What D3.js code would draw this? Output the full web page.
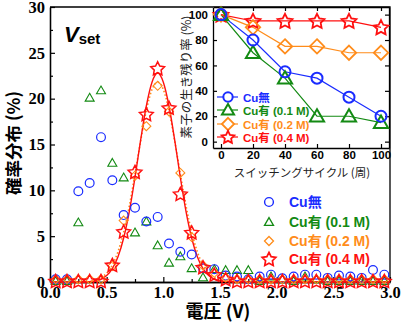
<!doctype html>
<html>
<head>
<meta charset="utf-8"/>
<title>Vset distribution</title>
<script src="https://d3js.org/d3.v7.min.js"></script>
<style>
body { margin: 0; background: #fff; }
svg { display: block; }
</style>
</head>
<body>
<svg id="svg1"></svg>
<script>
// main plot: bin centres (V) and probability (%)
const voltage = [0.05, 0.15, 0.25, 0.35, 0.45, 0.55, 0.65, 0.75, 0.85, 0.95,
                 1.05, 1.15, 1.25, 1.35, 1.45, 1.55, 1.65, 1.75, 1.85, 1.95,
                 2.05, 2.15, 2.25, 2.35, 2.45, 2.55, 2.65, 2.75, 2.85, 2.95];
const cuNone = [0.3, 0.3, 9.9, 10.8, 15.8, 11.1, 7.3, 8.1, 6.6, 7.1,
                4.2, 3.3, 3.0, 1.5, 1.4, 0.7, 0.6, 0.3, 0.6, 0.8,
                0.4, 0.6, 0.8, 0.8, 0.45, 0.7, 0.6, 0.45, 1.3, 0.8];
const cu01 = [0.1, 0.1, 6.5, 20.1, 20.9, 13.0, 11.4, 5.4, 6.6, 4.0,
              2.1, 2.8, 1.5, 0.5, 1.4, 1.3, 1.3, 1.3, 0.1, 0.6,
              0.3, 0.1, 0.6, 0.3, 0.1, 0.1, 0.1, 0.1, 0.1, 0.1];
const cu02 = [0.3, 0.3, 0.3, 0.3, 0.3, 1.75, 6.7, 11.6, 17.0, 21.4,
              18.6, 11.9, 4.9, 1.8, 1.0, 0.5, 0.3, 0.3, 0.3, 0.3,
              0.3, 0.3, 0.3, 0.3, 0.3, 0.3, 0.3, 0.3, 0.3, 0.3];
const cu04 = [0.1, 0.1, 0.1, 0.1, 0.1, 1.85, 5.5, 12.0, 18.3, 23.3,
              19.0, 9.6, 5.4, 1.6, 0.8, 0.3, 0.1, 0.1, 0.1, 0.1,
              0.1, 0.1, 0.1, 0.1, 0.1, 0.1, 0.1, 0.1, 0.1, 0.1];

// fitted curves
const fitV = [0.0, 0.3, 0.4, 0.45, 0.5, 0.55, 0.6, 0.65, 0.7, 0.75, 0.8, 0.85, 0.9,
              0.95, 1.0, 1.05, 1.1, 1.15, 1.2, 1.25, 1.3, 1.35, 1.4, 1.45, 1.5, 1.6, 1.8, 3.0];
const fit04 = [0.0, 0.0, 0.12, 0.3, 0.7, 1.45, 2.75, 4.8, 7.7, 11.4, 15.5, 19.2, 21.8,
               22.8, 21.8, 19.2, 15.5, 11.4, 7.7, 4.8, 2.75, 1.45, 0.7, 0.3, 0.12, 0.02, 0.0, 0.0];
const fit02 = [0.0, 0.0, 0.2, 0.46, 0.96, 1.85, 3.3, 5.45, 8.3, 11.8, 15.4, 18.7, 21.0,
               21.8, 21.0, 18.7, 15.4, 11.8, 8.3, 5.45, 3.3, 1.85, 0.96, 0.46, 0.2, 0.05, 0.0, 0.0];

// inset: survival rate (%) vs switching cycles
const cycles = [0, 20, 40, 60, 80, 100];
const survNone = [100, 80, 55, 50, 35, 20];
const surv01 = [100, 70, 50, 20, 20, 15];
const surv02 = [100, 90, 75, 75, 70, 70];
const surv04 = [100, 95, 95, 95, 95, 90];

const seriesNames = ['Cu無', 'Cu有 (0.1 M)', 'Cu有 (0.2 M)', 'Cu有 (0.4 M)'];
const seriesColors = ['#1a2cff', '#138a13', '#ff8c1a', '#ff1010'];
const seriesShapes = ['circle', 'triangle', 'diamond', 'star'];

const xTicks = [0, 0.5, 1.0, 1.5, 2.0, 2.5, 3.0];
const yTicks = [0, 5, 10, 15, 20, 25, 30];
const insetXTicks = [0, 20, 40, 60, 80, 100];
const insetYTicks = [0, 20, 40, 60, 80, 100];

const W = 402, H = 323;
const sans = "'Liberation Sans', Arial, 'Noto Sans CJK JP', sans-serif";
const serif = "'Liberation Serif', 'Times New Roman', serif";
const cjk = "'Noto Sans CJK JP', 'Liberation Sans', sans-serif";

const svg = d3.select('#svg1').attr('width', W).attr('height', H);

// marker path, r is the outer radius in px
function shapePath(shape, r) {
    if (shape == 'circle') {
        return d3.arc()({innerRadius: 0, outerRadius: r, startAngle: 0, endAngle: 2 * Math.PI}).replace(/L0,0Z$/, 'Z');
    }
    let pts = [];
    if (shape == 'triangle') {
        for (let i = 0; i < 3; i++) {
            let a = -Math.PI / 2 + i * 2 * Math.PI / 3;
            pts.push([r * Math.cos(a), r * Math.sin(a) + r * 0.15]);
        }
    } else if (shape == 'diamond') {
        pts = [[0, -r], [r, 0], [0, r], [-r, 0]];
    } else {
        for (let i = 0; i < 10; i++) {
            let a = -Math.PI / 2 + i * Math.PI / 5;
            let rr = i % 2 == 0 ? r : r * 0.5;
            pts.push([rr * Math.cos(a), rr * Math.sin(a) + r * 0.08]);
        }
    }
    return 'M' + pts.map(p => p[0].toFixed(2) + ',' + p[1].toFixed(2)).join('L') + 'Z';
}

function drawMarkers(g, xs, ys, sx, sy, shape, color, r, sw) {
    g.append('g').selectAll('path')
        .data(xs.map((x, i) => [x, ys[i]]))
        .join('path')
        .attr('transform', d => 'translate(' + sx(d[0]) + ',' + sy(d[1]) + ')')
        .attr('d', shapePath(shape, r))
        .attr('fill', 'none')
        .attr('stroke', color)
        .attr('stroke-width', sw);
}

// ---------- main plot ----------
const x = d3.scaleLinear().domain([0, 3]).range([50, 390]);
const y = d3.scaleLinear().domain([0, 30]).range([282, 7]);

const main = svg.append('g');

function styleAxis(g, font, size) {
    g.selectAll('path.domain').attr('stroke', '#000').attr('stroke-width', 1.3);
    g.selectAll('.tick line').attr('stroke', '#000').attr('stroke-width', 1.2);
    g.selectAll('.tick text')
        .attr('fill', '#000')
        .style('font-family', font)
        .style('font-size', size + 'px')
        .style('font-weight', 'bold');
}

// minor ticks first
main.append('g').attr('transform', 'translate(0,282)')
    .call(d3.axisBottom(x).tickValues([0.25, 0.75, 1.25, 1.75, 2.25, 2.75]).tickSizeInner(-3).tickSizeOuter(0).tickFormat(''))
    .call(g => styleAxis(g, serif, 15));
main.append('g').attr('transform', 'translate(50,0)')
    .call(d3.axisLeft(y).tickValues([2.5, 7.5, 12.5, 17.5, 22.5, 27.5]).tickSizeInner(-3).tickSizeOuter(0).tickFormat(''))
    .call(g => styleAxis(g, serif, 15));

main.append('g').attr('transform', 'translate(0,282)')
    .call(d3.axisBottom(x).tickValues(xTicks).tickSizeInner(-5).tickSizeOuter(0).tickPadding(4).tickFormat(d3.format('.1f')))
    .call(g => styleAxis(g, serif, 16.5));
main.append('g').attr('transform', 'translate(50,0)')
    .call(d3.axisLeft(y).tickValues(yTicks).tickSizeInner(-5).tickSizeOuter(0).tickPadding(5).tickFormat(d3.format('d')))
    .call(g => styleAxis(g, serif, 16.5));

// top and right border
main.append('path')
    .attr('d', 'M50,' + y(30) + 'H' + x(3) + 'V' + y(0))
    .attr('fill', 'none').attr('stroke', '#000').attr('stroke-width', 1.3);

// fitted curves
const fitLine = (vals) => d3.line().x((d, i) => x(fitV[i])).y((d) => y(d)).curve(d3.curveMonotoneX)(vals);
main.append('path').attr('d', fitLine(fit02))
    .attr('fill', 'none').attr('stroke', seriesColors[2]).attr('stroke-width', 1.6)
    .attr('stroke-dasharray', '1.5,2.2');
main.append('path').attr('d', fitLine(fit04))
    .attr('fill', 'none').attr('stroke', seriesColors[3]).attr('stroke-width', 1.4);

const mainSeries = [cuNone, cu01, cu02, cu04];
const mainR = [4.4, 5.2, 4.5, 7.2];
const mainSW = [1.2, 1.1, 1.1, 1.5];
[1, 0, 2, 3].forEach(k => {
    drawMarkers(main, voltage, mainSeries[k], x, y, seriesShapes[k], seriesColors[k], mainR[k], mainSW[k]);
});

// axis titles
main.append('text')
    .attr('transform', 'translate(20,143) rotate(-90)')
    .attr('text-anchor', 'middle')
    .style('font-family', cjk).style('font-size', '17.5px').style('font-weight', 'bold')
    .text('確率分布 (%)');
main.append('text')
    .attr('x', 218).attr('y', 318)
    .attr('text-anchor', 'middle')
    .style('font-family', cjk).style('font-size', '18px').style('font-weight', 'bold')
    .text('電圧 (V)');

// V_set label
const vset = main.append('text').attr('x', 64).attr('y', 42)
    .style('font-family', sans).style('font-weight', 'bold');
vset.append('tspan').style('font-style', 'italic').style('font-size', '22px').text('V');
vset.append('tspan').attr('dy', 2).style('font-size', '15px').text('set');

// main legend
const legRows = [202, 222, 241, 259];
seriesNames.forEach((name, k) => {
    main.append('path')
        .attr('transform', 'translate(269,' + legRows[k] + ')')
        .attr('d', shapePath(seriesShapes[k], mainR[k]))
        .attr('fill', 'none').attr('stroke', seriesColors[k]).attr('stroke-width', mainSW[k] + 0.2);
    main.append('text')
        .attr('x', 289).attr('y', legRows[k] + 5)
        .attr('fill', seriesColors[k])
        .style('font-family', sans).style('font-size', '14px').style('font-weight', 'bold')
        .text(name);
});

// ---------- inset ----------
const ix = d3.scaleLinear().domain([-5, 105]).range([213, 389]);
const iy = d3.scaleLinear().domain([-5, 106]).range([148, 7]);
const inset = svg.append('g');

inset.append('rect')
    .attr('x', 213).attr('y', 7).attr('width', 176).attr('height', 141)
    .attr('fill', '#fff').attr('stroke', 'none');

inset.append('g').attr('transform', 'translate(0,148)')
    .call(d3.axisBottom(ix).tickValues(insetXTicks).tickSizeInner(-4).tickSizeOuter(0).tickPadding(3))
    .call(g => styleAxis(g, sans, 11.5));
inset.append('g').attr('transform', 'translate(213,0)')
    .call(d3.axisLeft(iy).tickValues(insetYTicks).tickSizeInner(-4).tickSizeOuter(0).tickPadding(5))
    .call(g => styleAxis(g, sans, 11.5));
inset.append('g').attr('transform', 'translate(389,0)')
    .call(d3.axisRight(iy).tickValues(insetYTicks).tickSizeInner(-4).tickSizeOuter(0).tickFormat(''))
    .call(g => styleAxis(g, sans, 11.5));
inset.append('g').attr('transform', 'translate(0,7)')
    .call(d3.axisTop(ix).tickValues(insetXTicks).tickSizeInner(-4).tickSizeOuter(0).tickFormat(''))
    .call(g => styleAxis(g, sans, 11.5));

const insetSeries = [survNone, surv01, surv02, surv04];
const insetR = [5.5, 8.2, 7.2, 7.8];
const insetSW = [2, 2, 1.8, 1.8];
[0, 1, 2, 3].forEach(k => {
    inset.append('path')
        .attr('d', d3.line().x((d, i) => ix(cycles[i])).y(d => iy(d))(insetSeries[k]))
        .attr('fill', 'none').attr('stroke', seriesColors[k]).attr('stroke-width', 1.2);
});
[3, 2, 1, 0].forEach(k => {
    drawMarkers(inset, cycles, insetSeries[k], ix, iy, seriesShapes[k], seriesColors[k], insetR[k], insetSW[k]);
});

// inset legend
const insetLegRows = [97, 110, 124, 137];
seriesNames.forEach((name, k) => {
    inset.append('line')
        .attr('x1', 217).attr('x2', 238).attr('y1', insetLegRows[k]).attr('y2', insetLegRows[k])
        .attr('stroke', seriesColors[k]).attr('stroke-width', 1.2);
    inset.append('path')
        .attr('transform', 'translate(228,' + insetLegRows[k] + ')')
        .attr('d', shapePath(seriesShapes[k], insetR[k] * 0.85))
        .attr('fill', '#fff').attr('stroke', seriesColors[k]).attr('stroke-width', insetSW[k]);
    inset.append('text')
        .attr('x', 243).attr('y', insetLegRows[k] + 4.5)
        .attr('fill', seriesColors[k])
        .style('font-family', sans).style('font-size', '11.5px').style('font-weight', 'bold')
        .text(name);
});

inset.append('text')
    .attr('transform', 'translate(191,77) rotate(-90)')
    .attr('text-anchor', 'middle')
    .attr('fill', '#222')
    .style('font-family', cjk).style('font-size', '12.5px')
    .text('素子の生き残り率 (%)');
inset.append('text')
    .attr('x', 302).attr('y', 177)
    .attr('text-anchor', 'middle')
    .attr('fill', '#222')
    .style('font-family', cjk).style('font-size', '11.5px')
    .text('スイッチングサイクル (周)');
</script>
</body>
</html>
